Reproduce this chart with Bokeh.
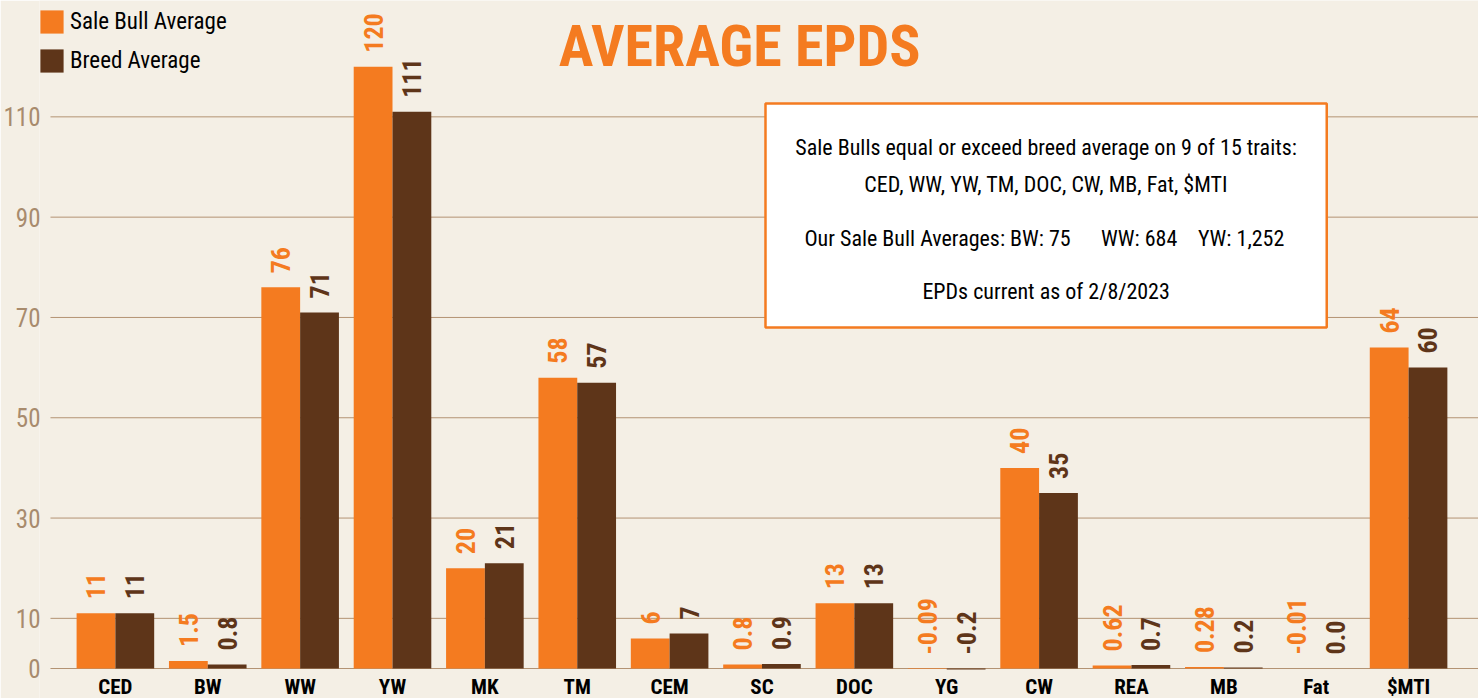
import math
from bokeh.plotting import figure
from bokeh.models import FixedTicker, Legend, LegendItem, Label, BoxAnnotation
from bokeh.core.properties import value
from bokeh.embed import file_html
from bokeh.resources import INLINE

# ---------------- data ----------------
categories = ["CED", "BW", "WW", "YW", "MK", "TM", "CEM", "SC", "DOC", "YG",
              "CW", "REA", "MB", "Fat", "$MTI"]
sale_bull_labels = ["11", "1.5", "76", "120", "20", "58", "6", "0.8", "13", "-0.09",
                    "40", "0.62", "0.28", "-0.01", "64"]
breed_labels = ["11", "0.8", "71", "111", "21", "57", "7", "0.9", "13", "-0.2",
                "35", "0.7", "0.2", "0.0", "60"]
y_ticks = [0, 10, 30, 50, 70, 90, 110]
series_names = ["Sale Bull Average", "Breed Average"]
info_lines = [
    "Sale Bulls equal or exceed breed average on 9 of 15 traits:",
    "CED, WW, YW, TM, DOC, CW, MB, Fat, $MTI",
    "EPDs current as of 2/8/2023",
]
info_averages = ["Our Sale Bull Averages: BW: 75", "WW: 684", "YW: 1,252"]
title_text = "AVERAGE EPDS"

sale_bull = [float(s) for s in sale_bull_labels]
breed = [float(s) for s in breed_labels]

# ---------------- style ----------------
BG = "#F4EFE5"
ORANGE = "#F47B20"
BROWN = "#5E3519"
GRID = "#B39373"
TICK = "#A88B6D"
FONT = "Roboto Condensed"

X_START, X_END = -0.8216, 14.757
GRID_X0 = -0.7027

p = figure(width=1478, height=698, output_backend="svg", toolbar_location=None,
           x_range=(X_START, X_END), y_range=(-5.98, 133.20),
           min_border_left=37, min_border_right=0, min_border_top=0, min_border_bottom=0,
           background_fill_color=BG, border_fill_color=BG, outline_line_color=None)

p.xaxis.visible = False
p.xgrid.visible = False
p.ygrid.visible = False
p.yaxis.ticker = FixedTicker(ticks=y_ticks)
p.yaxis.axis_line_color = None
p.yaxis.major_tick_line_color = None
p.yaxis.minor_tick_line_color = None
p.yaxis.major_label_standoff = -7
p.yaxis.major_label_text_font = FONT
p.yaxis.major_label_text_font_size = "25px"
p.yaxis.major_label_text_color = TICK

# horizontal grid lines at the tick values
p.segment(x0=[GRID_X0] * len(y_ticks), x1=[X_END] * len(y_ticks),
          y0=y_ticks, y1=y_ticks, line_color=GRID, line_width=1, level="underlay")

idx = list(range(len(categories)))
w = 0.42
x_sale = [i - w / 2 for i in idx]
x_breed = [i + w / 2 for i in idx]

r1 = p.quad(left=[x - w / 2 for x in x_sale], right=[x + w / 2 for x in x_sale],
            bottom=0, top=sale_bull, fill_color=ORANGE, line_color=None)
r2 = p.quad(left=[x - w / 2 for x in x_breed], right=[x + w / 2 for x in x_breed],
            bottom=0, top=breed, fill_color=BROWN, line_color=None)

# value labels (rotated)
p.text(x=x_sale, y=[max(v, 0) for v in sale_bull], text=sale_bull_labels,
       angle=math.pi / 2, text_align="left", text_baseline="middle", y_offset=-14,
       text_font=value(FONT), text_font_style="bold", text_font_size="26px",
       text_color=ORANGE)
p.text(x=x_breed, y=[max(v, 0) for v in breed], text=breed_labels,
       angle=math.pi / 2, text_align="left", text_baseline="middle", y_offset=-14,
       text_font=value(FONT), text_font_style="bold", text_font_size="26px",
       text_color=BROWN)

# category labels
p.text(x=idx, y=[0] * len(idx), text=categories, text_align="center",
       text_baseline="alphabetic", y_offset=18, text_font=value(FONT),
       text_font_style="bold", text_font_size="21px", text_color="#000000")

# legend
legend = Legend(items=[LegendItem(label=series_names[0], renderers=[r1]),
                       LegendItem(label=series_names[1], renderers=[r2])],
                location=(-2, 623), orientation="vertical",
                glyph_width=29, glyph_height=29, spacing=10, label_standoff=4,
                padding=0, margin=0, border_line_color=None,
                background_fill_alpha=0, label_text_font=FONT,
                label_text_font_size="23px", label_text_color="#000000")
p.add_layout(legend, "center")

# title
p.add_layout(Label(x=6.757, y=124.03, text=title_text, text_align="center",
                   text_baseline="middle", text_font=FONT, text_font_style="bold",
                   text_font_size="58px", text_color=ORANGE))

# info box
p.add_layout(BoxAnnotation(left=7.038, right=13.114, bottom=68.0, top=112.66,
                           fill_color="#FFFFFF", fill_alpha=1.0,
                           line_color=ORANGE, line_alpha=1.0, line_width=2.5))
for txt, yy in zip(info_lines, [103.89, 96.51, 75.17]):
    p.add_layout(Label(x=10.076, y=yy, text=txt, text_align="center",
                       text_baseline="middle", text_font=FONT,
                       text_font_size="22px", text_color="#000000"))
for txt, xx in zip(info_averages, [7.459, 10.670, 11.719]):
    p.add_layout(Label(x=xx, y=85.74, text=txt, text_align="left",
                       text_baseline="middle", text_font=FONT,
                       text_font_size="22px", text_color="#000000"))

html = file_html(p, INLINE)
html = html.replace("<body>", '<body style="background:%s">' % BG, 1)
open("out.html", "w").write(html)
